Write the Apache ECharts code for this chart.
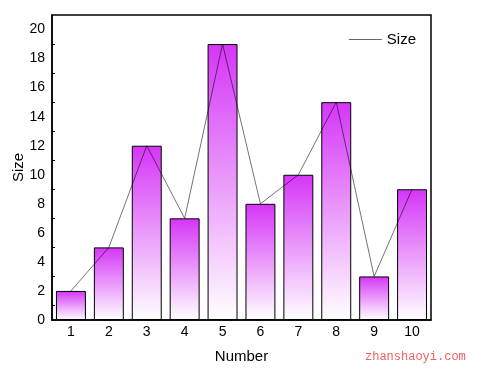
<!DOCTYPE html>
<html><head><meta charset="utf-8">
<script src="https://cdn.jsdelivr.net/npm/echarts@6/dist/echarts.min.js"></script>
<style>html,body{margin:0;padding:0;background:#fff}#c{width:484px;height:377px}</style>
</head><body><div id="c"></div>
<script>
var categories = ['1','2','3','4','5','6','7','8','9','10'];
var sizes = [2,5,12,7,19,8,10,15,3,9];
var yTicks = [0,2,4,6,8,10,12,14,16,18,20];

var chart = echarts.init(document.getElementById('c'));
var font = 'Arial, "Liberation Sans", sans-serif';
chart.setOption({
  animation: false,
  grid: {left: 52, right: 53, top: 15, bottom: 57, outerBoundsMode: 'none', containLabel: false,
    show: true, borderColor: '#000', borderWidth: 1.5, backgroundColor: 'transparent'},
  legend: {
    data: [{name: 'Size', icon: 'rect'}],
    right: 63, top: 27, itemWidth: 33, itemHeight: 1, itemGap: 6,
    textStyle: {fontFamily: font, fontSize: 15, color: '#000'}
  },
  xAxis: {
    type: 'category', data: categories, boundaryGap: true,
    name: 'Number', nameLocation: 'middle', nameGap: 29, nameMoveOverlap: false,
    nameTextStyle: {fontFamily: font, fontSize: 15, color: '#000'},
    axisLine: {lineStyle: {color: '#000', width: 1.5}},
    axisTick: {inside: true, alignWithLabel: true, length: 6, lineStyle: {color: '#000'}},
    axisLabel: {fontFamily: font, fontSize: 14, color: '#000', margin: 5}
  },
  yAxis: {
    type: 'value', min: 0, max: 21, interval: 2,
    name: 'Size', nameLocation: 'middle', nameGap: 26, nameMoveOverlap: false,
    nameTextStyle: {fontFamily: font, fontSize: 15, color: '#000'},
    axisLine: {show: true, lineStyle: {color: '#000', width: 1.5}},
    axisTick: {inside: true, length: 5, lineStyle: {color: '#000'}},
    minorTick: {show: true, splitNumber: 2, length: 3, lineStyle: {color: '#000'}},
    splitLine: {show: false},
    axisLabel: {fontFamily: font, fontSize: 14, color: '#000', margin: 7,
      formatter: function(v){ return yTicks.indexOf(v) >= 0 ? String(v) : ''; }}
  },
  series: [
    {
      name: 'bars', type: 'bar', data: sizes, barWidth: '79%',
      itemStyle: {
        borderColor: '#000', borderWidth: 1,
        color: new echarts.graphic.LinearGradient(0, 0, 0, 1, [
          {offset: 0, color: '#d535f7'},
          {offset: 1, color: '#ffffff'}
        ])
      }
    },
    {
      name: 'Size', type: 'line', data: sizes, symbol: 'none', z: 5,
      lineStyle: {color: 'rgba(0,0,0,0.55)', width: 1},
      itemStyle: {color: '#666'}
    }
  ],
  graphic: [{
    type: 'text', left: 365, top: 351,
    style: {text: 'zhanshaoyi.com', fill: '#f06060', font: '12px "Liberation Mono", "DejaVu Sans Mono", monospace'}
  }]
});
</script></body></html>
